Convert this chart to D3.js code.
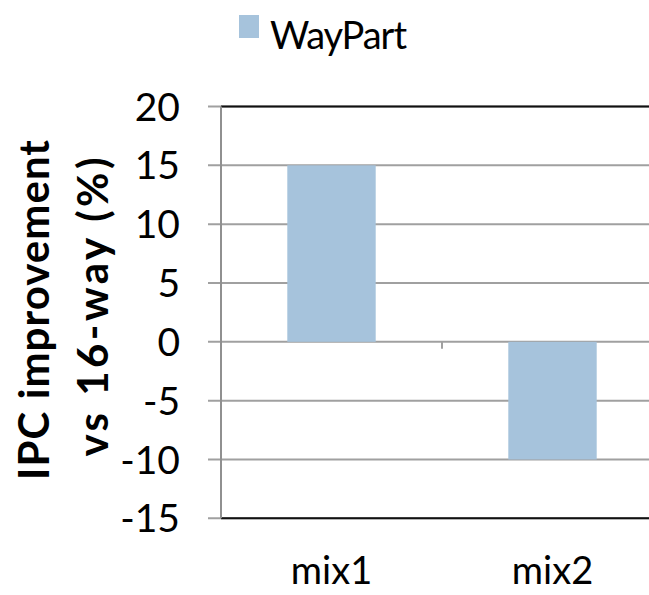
<!DOCTYPE html>
<html><head><meta charset="utf-8">
<script src="https://cdn.jsdelivr.net/npm/d3@7"></script>
<style>body{margin:0;background:#fff}svg{display:block}text{font-family:"Century Gothic","URW Gothic",Lato,"DejaVu Sans",sans-serif}</style>
</head><body><svg id="c" width="649" height="595"></svg>
<script>
const categories = ["mix1", "mix2"];
const seriesName = "WayPart";
const values = [15, -10];
const yTicks = [20, 15, 10, 5, 0, -5, -10, -15];
const yTitle = ["IPC improvement", "vs 16-way (%)"];

(function () {
const svg = d3.select("#c");
const pL = 221, pR = 663, pT = 106.5, pB = 518.3;
const y = d3.scaleLinear().domain([-15, 20]).range([pB, pT]);
const x = d3.scaleBand().domain(categories).range([pL, pR]).paddingInner(0.6).paddingOuter(0.3);
const xb = d3.scaleBand().domain(categories).range([pL, pR]);
const color = "#a6c3dc";

svg.append("g").selectAll("line").data(yTicks).join("line")
  .attr("x1", pL - 13).attr("x2", pR)
  .attr("y1", d => y(d)).attr("y2", d => y(d))
  .attr("stroke", "#a0a0a0").attr("stroke-width", 2);
[20, -15].forEach(v => svg.append("line").attr("x1", pL).attr("x2", pR)
  .attr("y1", y(v)).attr("y2", y(v)).attr("stroke", "#111").attr("stroke-width", 2));

svg.append("g").selectAll("rect").data(values).join("rect")
  .attr("x", (d, i) => x(categories[i]))
  .attr("width", x.bandwidth())
  .attr("y", d => y(Math.max(0, d)))
  .attr("height", d => Math.abs(y(d) - y(0)))
  .attr("fill", color);

svg.append("line").attr("x1", pL).attr("x2", pL).attr("y1", pT).attr("y2", pB)
  .attr("stroke", "#909090").attr("stroke-width", 2);
svg.append("line").attr("x1", xb("mix2")).attr("x2", xb("mix2"))
  .attr("y1", y(0)).attr("y2", y(0) + 7).attr("stroke", "#a0a0a0").attr("stroke-width", 2);

svg.append("g").selectAll("text").data(yTicks).join("text")
  .attr("x", 180).attr("y", d => y(d)).attr("dy", "0.36em")
  .attr("text-anchor", "end").attr("font-size", 39).attr("fill", "#000")
  .text(d => d);

svg.append("g").selectAll("text").data(categories).join("text")
  .attr("x", d => xb(d) + xb.bandwidth() / 2).attr("y", 584)
  .attr("text-anchor", "middle").attr("font-size", 38).attr("fill", "#000")
  .text(d => d);

const tLens = [340, 299];
const tg = svg.append("g");
tg.selectAll("text").data(yTitle).join("text")
  .attr("transform", (d, i) => `translate(${i === 0 ? 49 : 108},${i === 0 ? 310 : 307}) rotate(-90)`)
  .attr("text-anchor", "middle").attr("font-size", 42).attr("font-weight", "bold")
  .attr("textLength", (d, i) => tLens[i]).attr("lengthAdjust", "spacing")
  .attr("fill", "#000").text(d => d);

svg.append("rect").attr("x", 239).attr("y", 15).attr("width", 20).attr("height", 23).attr("fill", color);
svg.append("text").attr("x", 270).attr("y", 49).attr("font-size", 38).attr("fill", "#000")
  .attr("textLength", 137).attr("lengthAdjust", "spacing").text(seriesName);
})();
</script></body></html>
